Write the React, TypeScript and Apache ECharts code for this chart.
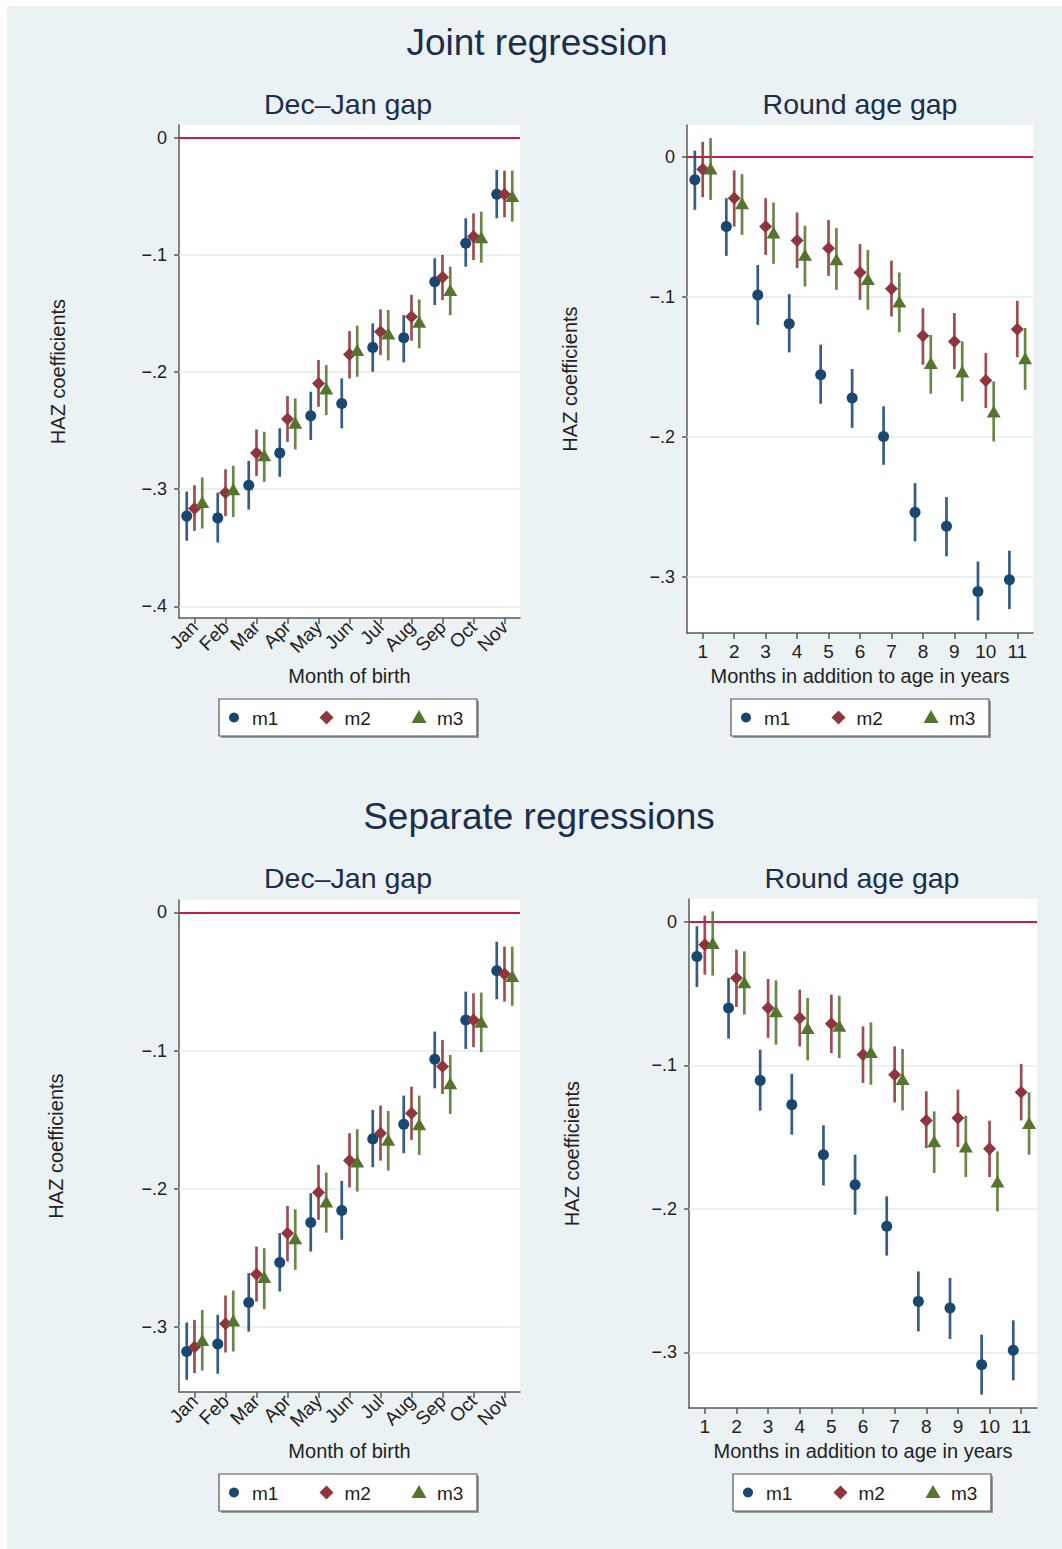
import React, { useEffect, useRef } from "react";
import * as echarts from "echarts";

// ---------- categories / ticks ----------
const monthLabels = ["Jan", "Feb", "Mar", "Apr", "May", "Jun", "Jul", "Aug", "Sep", "Oct", "Nov"];
const roundLabels = ["1", "2", "3", "4", "5", "6", "7", "8", "9", "10", "11"];
const xPositions = [1, 2, 3, 4, 5, 6, 7, 8, 9, 10, 11];
const modelNames = ["m1", "m2", "m3"];
const modelOffsets = [-0.25, 0, 0.25];
const yTicksJointDec = [0, -0.1, -0.2, -0.3, -0.4];
const yTicksJointRound = [0, -0.1, -0.2, -0.3];
const yTicksSepDec = [0, -0.1, -0.2, -0.3];
const yTicksSepRound = [0, -0.1, -0.2, -0.3];

// ---------- Joint regression: Dec–Jan gap ----------
const jdM1 = [-0.323, -0.3245, -0.2966, -0.269, -0.2373, -0.2268, -0.1789, -0.1707, -0.1228, -0.09, -0.0481];
const jdM1Hi = [-0.302, -0.303, -0.2758, -0.248, -0.2168, -0.2054, -0.1584, -0.1513, -0.1028, -0.0686, -0.0274];
const jdM1Lo = [-0.344, -0.3456, -0.3174, -0.2894, -0.258, -0.248, -0.1997, -0.1917, -0.1427, -0.11, -0.0686];
const jdM2 = [-0.3165, -0.303, -0.269, -0.24, -0.2097, -0.1849, -0.1655, -0.1527, -0.119, -0.0843, -0.0481];
const jdM2Hi = [-0.2966, -0.283, -0.249, -0.2205, -0.1897, -0.165, -0.1464, -0.134, -0.1, -0.0644, -0.028];
const jdM2Lo = [-0.3356, -0.323, -0.2886, -0.2596, -0.2296, -0.2054, -0.1855, -0.1732, -0.1385, -0.1043, -0.0678];
const jdM3 = [-0.311, -0.3, -0.271, -0.2433, -0.214, -0.1812, -0.167, -0.157, -0.13, -0.0849, -0.0496];
const jdM3Hi = [-0.29, -0.28, -0.251, -0.2225, -0.194, -0.1604, -0.147, -0.138, -0.11, -0.063, -0.028];
const jdM3Lo = [-0.3336, -0.3237, -0.2937, -0.266, -0.2368, -0.204, -0.19, -0.1797, -0.1513, -0.1066, -0.0715];

// ---------- Joint regression: Round age gap ----------
const jrM1 = [-0.0162, -0.0496, -0.0984, -0.119, -0.1555, -0.1721, -0.1996, -0.2538, -0.2638, -0.3103, -0.302];
const jrM1Hi = [0.0047, -0.0293, -0.077, -0.0979, -0.134, -0.1514, -0.178, -0.2329, -0.2429, -0.2889, -0.2812];
const jrM1Lo = [-0.0376, -0.0705, -0.1198, -0.1395, -0.1762, -0.1934, -0.2198, -0.2745, -0.2852, -0.331, -0.3229];
const jrM2 = [-0.0086, -0.0293, -0.0496, -0.0595, -0.065, -0.0824, -0.094, -0.1276, -0.1317, -0.1595, -0.1229];
const jrM2Hi = [0.011, -0.0095, -0.0293, -0.0395, -0.0448, -0.0621, -0.074, -0.1079, -0.1114, -0.14, -0.1026];
const jrM2Lo = [-0.0286, -0.0496, -0.0698, -0.0793, -0.0848, -0.1019, -0.1138, -0.1483, -0.1514, -0.1793, -0.1429];
const jrM3 = [-0.008, -0.0329, -0.0538, -0.0698, -0.0729, -0.0871, -0.1031, -0.1471, -0.1531, -0.1817, -0.1436];
const jrM3Hi = [0.0136, -0.0121, -0.0324, -0.049, -0.0507, -0.0662, -0.0824, -0.127, -0.1317, -0.1602, -0.122];
const jrM3Lo = [-0.0305, -0.0555, -0.0762, -0.0924, -0.0948, -0.109, -0.1252, -0.169, -0.1745, -0.2031, -0.1662];

// ---------- Separate regressions: Dec–Jan gap ----------
const sdM1 = [-0.3177, -0.3122, -0.2823, -0.2533, -0.2244, -0.2157, -0.1639, -0.1533, -0.1063, -0.0779, -0.0422];
const sdM1Hi = [-0.2967, -0.2912, -0.261, -0.2321, -0.2032, -0.1943, -0.1429, -0.1326, -0.0863, -0.0574, -0.0213];
const sdM1Lo = [-0.3382, -0.3338, -0.3033, -0.2743, -0.2454, -0.2369, -0.1844, -0.1743, -0.1273, -0.0988, -0.0629];
const sdM2 = [-0.3145, -0.2977, -0.2618, -0.2321, -0.2027, -0.1796, -0.1598, -0.1453, -0.1116, -0.0779, -0.0446];
const sdM2Hi = [-0.2948, -0.2772, -0.2418, -0.2124, -0.1827, -0.1598, -0.1398, -0.1261, -0.0923, -0.0586, -0.0249];
const sdM2Lo = [-0.3333, -0.3184, -0.2816, -0.2526, -0.2225, -0.1991, -0.1796, -0.1646, -0.1314, -0.0976, -0.0646];
const sdM3 = [-0.3093, -0.2953, -0.2639, -0.2357, -0.2092, -0.1803, -0.1646, -0.1533, -0.1237, -0.0791, -0.046];
const sdM3Hi = [-0.2876, -0.2736, -0.243, -0.2148, -0.1883, -0.1569, -0.1437, -0.1326, -0.1032, -0.0581, -0.0249];
const sdM3Lo = [-0.3315, -0.3177, -0.2871, -0.2586, -0.2317, -0.202, -0.1868, -0.1755, -0.1458, -0.1012, -0.0677];

// ---------- Separate regressions: Round age gap ----------
const srM1 = [-0.024, -0.0599, -0.1104, -0.1273, -0.1622, -0.1831, -0.2121, -0.2644, -0.269, -0.3085, -0.2985];
const srM1Hi = [-0.003, -0.039, -0.089, -0.1059, -0.1417, -0.1622, -0.1912, -0.2435, -0.2481, -0.2876, -0.2776];
const srM1Lo = [-0.0453, -0.0813, -0.1315, -0.1482, -0.1836, -0.204, -0.2325, -0.2853, -0.2906, -0.3294, -0.3194];
const srM2 = [-0.0158, -0.039, -0.0599, -0.0669, -0.0709, -0.0925, -0.1064, -0.1383, -0.1366, -0.158, -0.1187];
const srM2Hi = [0.0044, -0.0193, -0.0397, -0.0472, -0.0507, -0.0728, -0.0867, -0.118, -0.1169, -0.1385, -0.099];
const srM2Lo = [-0.0367, -0.0592, -0.0808, -0.0867, -0.0913, -0.1122, -0.1257, -0.1575, -0.1568, -0.1777, -0.1383];
const srM3 = [-0.0146, -0.0421, -0.0623, -0.0739, -0.0723, -0.0906, -0.1094, -0.1529, -0.1564, -0.1808, -0.1401];
const srM3Hi = [0.0074, -0.0205, -0.0407, -0.053, -0.0514, -0.07, -0.0885, -0.132, -0.135, -0.1599, -0.1187];
const srM3Lo = [-0.0374, -0.0646, -0.0855, -0.0964, -0.0948, -0.1134, -0.1313, -0.1749, -0.1777, -0.2017, -0.1622];

// ---------- styles ----------
const FONT = "'Liberation Sans', Arial, Helvetica, sans-serif";
const TITLE_COLOR = "#1c2d4e";
const TEXT_COLOR = "#222";
const AXIS_COLOR = "#5a5a5a";
const BG = "#eaf2f3";
const modelColors = ["#1a476f", "#90353b", "#55752f"];
const modelSymbols = ["circle", "diamond", "triangle"];
const modelSymbolSizes: any[] = [11, 13, [14, 12]];
const legendIconSizes = [10, 14, 13];
const ZERO_COLOR = "#cc1a45";
const GRIDLINE_COLOR = "#e3ecee";

type Panel = {
  left: number; top: number; width: number; height: number;
  yMin: number; yMax: number; yTicks: number[];
  labels: string[]; rotate: number; labelMargin: number; labelSize: number;
  xName: string; xNameGap: number; yNameGap: number;
  legendLeft: number; legendTop: number;
  data: number[][][];
};

const panels: Panel[] = [
  {
    left: 179, top: 125, width: 341, height: 493, yMin: -0.41, yMax: 0.011, yTicks: yTicksJointDec,
    labels: monthLabels, rotate: 45, labelMargin: 6, labelSize: 19,
    xName: "Month of birth", xNameGap: 48, yNameGap: 111, legendLeft: 219, legendTop: 699,
    data: [[jdM1, jdM1Lo, jdM1Hi], [jdM2, jdM2Lo, jdM2Hi], [jdM3, jdM3Lo, jdM3Hi]],
  },
  {
    left: 687, top: 125, width: 346, height: 508, yMin: -0.34, yMax: 0.023, yTicks: yTicksJointRound,
    labels: roundLabels, rotate: 0, labelMargin: 9, labelSize: 19,
    xName: "Months in addition to age in years", xNameGap: 33, yNameGap: 107, legendLeft: 731, legendTop: 699,
    data: [[jrM1, jrM1Lo, jrM1Hi], [jrM2, jrM2Lo, jrM2Hi], [jrM3, jrM3Lo, jrM3Hi]],
  },
  {
    left: 179, top: 900, width: 341, height: 492, yMin: -0.347, yMax: 0.0089, yTicks: yTicksSepDec,
    labels: monthLabels, rotate: 45, labelMargin: 6, labelSize: 19,
    xName: "Month of birth", xNameGap: 49, yNameGap: 113, legendLeft: 219, legendTop: 1474,
    data: [[sdM1, sdM1Lo, sdM1Hi], [sdM2, sdM2Lo, sdM2Hi], [sdM3, sdM3Lo, sdM3Hi]],
  },
  {
    left: 689, top: 899, width: 348, height: 509, yMin: -0.3387, yMax: 0.016, yTicks: yTicksSepRound,
    labels: roundLabels, rotate: 0, labelMargin: 9, labelSize: 19,
    xName: "Months in addition to age in years", xNameGap: 33, yNameGap: 107, legendLeft: 733, legendTop: 1474,
    data: [[srM1, srM1Lo, srM1Hi], [srM2, srM2Lo, srM2Hi], [srM3, srM3Lo, srM3Hi]],
  },
];

const yFmt = (v: number) => {
  if (Math.abs(v) < 1e-9) return "0";
  const s = Math.abs(v).toFixed(1).replace(/^0/, "");
  return (v < 0 ? "\u2212" : "") + s;
};

function buildOption() {
  const grid: any[] = [];
  const xAxis: any[] = [];
  const yAxis: any[] = [];
  const series: any[] = [];
  const graphic: any[] = [];

  panels.forEach((p, i) => {
    grid.push({
      left: p.left, top: p.top, width: p.width, height: p.height,
      show: true, backgroundColor: "#ffffff", borderWidth: 0, containLabel: false,
    });
    xAxis.push({
      type: "value", gridIndex: i, min: 0.5, max: 11.5,
      name: p.xName, nameLocation: "middle", nameGap: p.xNameGap,
      nameTextStyle: { fontSize: 20, color: TEXT_COLOR, fontFamily: FONT },
      axisLine: { show: true, onZero: false, lineStyle: { color: AXIS_COLOR, width: 1.5 } },
      axisTick: { show: true, customValues: xPositions, length: 6, lineStyle: { color: AXIS_COLOR, width: 1.5 } },
      axisLabel: {
        customValues: xPositions,
        formatter: (v: number) => p.labels[Math.round(v) - 1] ?? "",
        rotate: p.rotate, margin: p.labelMargin, fontSize: p.labelSize, color: TEXT_COLOR, fontFamily: FONT,
      },
      splitLine: { show: false },
    });
    yAxis.push({
      type: "value", gridIndex: i, min: p.yMin, max: p.yMax,
      name: "HAZ coefficients", nameLocation: "middle", nameGap: p.yNameGap,
      nameTextStyle: { fontSize: 20, color: TEXT_COLOR, fontFamily: FONT },
      axisLine: { show: true, onZero: false, lineStyle: { color: AXIS_COLOR, width: 1.5 } },
      axisTick: { show: true, customValues: p.yTicks, length: 5, lineStyle: { color: AXIS_COLOR, width: 1.5 } },
      axisLabel: { customValues: p.yTicks, formatter: yFmt, margin: 12, fontSize: 18, color: TEXT_COLOR, fontFamily: FONT },
      splitLine: { show: false },
    });

    // gridlines + zero reference line (drawn behind the marks)
    const lines: any[] = p.yTicks
      .filter((t) => Math.abs(t) > 1e-9)
      .map((t) => ({ yAxis: t, lineStyle: { color: GRIDLINE_COLOR, width: 1.5, type: "solid" } }));
    lines.push({ yAxis: 0, lineStyle: { color: ZERO_COLOR, width: 2.2, type: "solid" } });
    series.push({
      type: "line", name: "ref" + i, xAxisIndex: i, yAxisIndex: i, data: [], z: 1,
      markLine: { silent: true, z: 1, symbol: ["none", "none"], label: { show: false }, animation: false, data: lines },
    });

    p.data.forEach((trio, k) => {
      const [est, lo, hi] = trio;
      const color = modelColors[k];
      series.push({
        type: "custom", name: modelNames[k] + " CI " + i, xAxisIndex: i, yAxisIndex: i, z: 10 + k * 2,
        data: xPositions.map((x, j) => [x + modelOffsets[k], lo[j], hi[j]]),
        encode: { x: 0, y: [1, 2] },
        renderItem: (params: any, api: any) => {
          const a = api.coord([api.value(0), api.value(1)]);
          const b = api.coord([api.value(0), api.value(2)]);
          return {
            type: "line",
            shape: { x1: a[0], y1: a[1], x2: b[0], y2: b[1] },
            style: { stroke: color, lineWidth: 2.7, opacity: 0.88 },
          };
        },
      });
      series.push({
        type: "scatter", name: modelNames[k], xAxisIndex: i, yAxisIndex: i, z: 11 + k * 2,
        symbol: modelSymbols[k], symbolSize: modelSymbolSizes[k],
        itemStyle: { color, opacity: 1 },
        data: xPositions.map((x, j) => [x + modelOffsets[k], est[j]]),
      });
    });

    // legend box (drawn as graphic so marker shapes keep their aspect)
    const lx = p.legendLeft;
    const ly = p.legendTop;
    const lw = 258;
    const lh = 37;
    const children: any[] = [
      { type: "rect", shape: { x: lx + 2, y: ly + 2, width: lw, height: lh }, style: { fill: "#9a9fa2" }, silent: true },
      { type: "rect", shape: { x: lx, y: ly, width: lw, height: lh }, style: { fill: "#ffffff", stroke: "#555", lineWidth: 1.2 }, silent: true },
    ];
    modelNames.forEach((n, k) => {
      const cx = lx + 15 + k * 92.5;
      const cy = ly + lh / 2;
      const s = legendIconSizes[k];
      if (k === 0) {
        children.push({ type: "circle", shape: { cx, cy, r: s / 2 }, style: { fill: modelColors[k] }, silent: true });
      } else if (k === 1) {
        children.push({
          type: "polygon",
          shape: { points: [[cx, cy - s / 2], [cx + s / 2, cy], [cx, cy + s / 2], [cx - s / 2, cy]] },
          style: { fill: modelColors[k] }, silent: true,
        });
      } else {
        children.push({
          type: "polygon",
          shape: { points: [[cx, cy - s / 2 - 1], [cx + s / 2 + 1, cy + s / 2 - 1], [cx - s / 2 - 1, cy + s / 2 - 1]] },
          style: { fill: modelColors[k] }, silent: true,
        });
      }
      children.push({
        type: "text", x: cx + 18, y: cy + 1, silent: true,
        style: { text: n, align: "left", verticalAlign: "middle", fontSize: 19, fill: TEXT_COLOR, fontFamily: FONT },
      });
    });
    graphic.push({ type: "group", children });
  });

  graphic.push(
    { type: "text", x: 537, y: 42, style: { text: "Joint regression", align: "center", verticalAlign: "middle", fontSize: 37, fill: TITLE_COLOR, fontFamily: FONT } },
    { type: "text", x: 348, y: 104, style: { text: "Dec\u2013Jan gap", align: "center", verticalAlign: "middle", fontSize: 28.5, fill: TITLE_COLOR, fontFamily: FONT } },
    { type: "text", x: 860, y: 104, style: { text: "Round age gap", align: "center", verticalAlign: "middle", fontSize: 28.5, fill: TITLE_COLOR, fontFamily: FONT } },
    { type: "text", x: 539, y: 816, style: { text: "Separate regressions", align: "center", verticalAlign: "middle", fontSize: 37, fill: TITLE_COLOR, fontFamily: FONT } },
    { type: "text", x: 348, y: 878, style: { text: "Dec\u2013Jan gap", align: "center", verticalAlign: "middle", fontSize: 28.5, fill: TITLE_COLOR, fontFamily: FONT } },
    { type: "text", x: 862, y: 878, style: { text: "Round age gap", align: "center", verticalAlign: "middle", fontSize: 28.5, fill: TITLE_COLOR, fontFamily: FONT } },
  );

  return {
    animation: false,
    backgroundColor: "transparent",
    textStyle: { fontFamily: FONT },
    grid, xAxis, yAxis, series, graphic,
  };
}

export default function App() {
  const ref = useRef<HTMLDivElement>(null);
  useEffect(() => {
    if (!ref.current) return;
    const chart = echarts.init(ref.current, undefined, { renderer: "svg" });
    chart.setOption(buildOption() as any);
    return () => chart.dispose();
  }, []);
  return (
    <div style={{ position: "absolute", left: 0, top: 0, width: 1062, height: 1549, background: "#ffffff", overflow: "hidden" }}>
      <div style={{ position: "absolute", left: 7, top: 6, width: 1055, height: 1543, background: BG }} />
      <div ref={ref} style={{ position: "absolute", left: 0, top: 0, width: 1062, height: 1549 }} />
    </div>
  );
}
